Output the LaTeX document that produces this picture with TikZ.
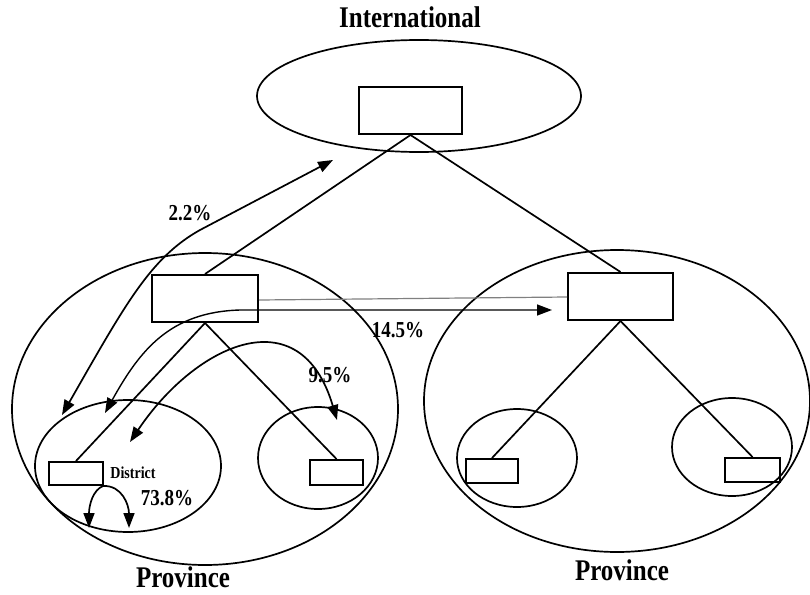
\documentclass[tikz,border=0pt]{standalone}
\usepackage{graphicx}
\usepackage{fontspec}
\setmainfont{Liberation Serif}
\usetikzlibrary{shapes.geometric,arrows.meta}
% slightly tall lettering
\newcommand{\tallt}[1]{\scalebox{1}[1.2]{#1}}
\begin{document}
\begin{tikzpicture}[x=1pt,y=-1pt,
  region/.style={draw, ellipse, line width=1.7pt, inner sep=0pt},
  unit/.style={draw, rectangle, line width=2pt, inner sep=0pt},
  link/.style={line width=1.7pt},
  tip/.tip={Triangle[length=15pt,width=11pt]},
  flow/.style={line width=1.7pt, tip-tip},
  lbl/.style={font=\bfseries, inner sep=0pt}]
\useasboundingbox (0,0) rectangle (810,594);

% levels: international, two provinces, districts
\node[region, minimum width=324pt, minimum height=112pt] (intl) at (419,96) {};
\node[region, minimum width=386pt, minimum height=312pt] (lprov) at (205,409) {};
\node[region, minimum width=386pt, minimum height=302pt] (rprov) at (617,401) {};
\node[region, minimum width=186pt, minimum height=132pt] (ldA) at (128,466) {};
\node[region, minimum width=120pt, minimum height=102pt] (ldB) at (318,458) {};
\node[region, minimum width=120pt, minimum height=98pt] (rdA) at (517,458) {};
\node[region, minimum width=120pt, minimum height=98pt] (rdB) at (732,447) {};

% units
\node[unit, minimum width=103pt, minimum height=47pt] (ibox) at (410.5,110.5) {};
\node[unit, minimum width=106pt, minimum height=47pt] (lbox) at (205,298.5) {};
\node[unit, minimum width=105pt, minimum height=47pt] (rbox) at (620.5,296.5) {};
\node[unit, minimum width=54pt, minimum height=23pt] (lbA) at (76,473.5) {};
\node[unit, minimum width=53pt, minimum height=25pt] (lbB) at (336.5,472.5) {};
\node[unit, minimum width=52pt, minimum height=24pt] (rbA) at (492,471) {};
\node[unit, minimum width=55pt, minimum height=24pt] (rbB) at (752.5,470) {};

% hierarchy
\draw[link] (ibox.south) -- (lbox.north);
\draw[link] (ibox.south) -- (rbox.north);
\draw[link] (lbox.south) -- (lbA.north);
\draw[link] (lbox.south) -- (lbB.north);
\draw[link] (rbox.south) -- (rbA.north);
\draw[link] (rbox.south) -- (rbB.north);
\draw[gray, line width=1.2pt] ([yshift=-1.5pt]lbox.east) -- ([yshift=-0.5pt]rbox.west);

% flows
\coordinate (f22a) at (62,415);
\coordinate (f22b) at (333,160);
\draw[flow] (f22a) .. controls (125,305) and (150,258) .. (200,230) -- (f22b);

\coordinate (f145a) at (105,413);
\coordinate (f145b) at (552,310);
\draw[flow, line width=1.4pt] (f145a) .. controls (140,350) and (170,312) .. (240,310) -- (f145b);

\coordinate (f95a) at (130,442);
\coordinate (f95b) at (337,420);
\draw[flow] (f95a) .. controls (195,345) and (300,295) .. (f95b);

\coordinate (loop) at ([xshift=-1pt]lbA.south east);
\coordinate (la) at (89,528);
\coordinate (lb) at (129,528);
\draw[link,-tip] (loop) .. controls (93,490) and (89,505) .. (la);
\draw[link,-tip] (loop) .. controls (122,485) and (129,505) .. (lb);

% labels
\node[lbl, font=\bfseries\fontsize{25}{25}\selectfont] (tintl) at (410,17) {\tallt{International}};
\node[lbl, font=\bfseries\fontsize{25}{25}\selectfont] (tlprov) at (183,577) {\tallt{Province}};
\node[lbl, font=\bfseries\fontsize{25}{25}\selectfont] (trprov) at (622,570) {\tallt{Province}};
\node[lbl, font=\bfseries\fontsize{19}{19}\selectfont] (t22) at (190,213) {\tallt{2.2\%}};
\node[lbl, font=\bfseries\fontsize{19}{19}\selectfont] (t145) at (398,330) {\tallt{14.5\%}};
\node[lbl, font=\bfseries\fontsize{19}{19}\selectfont] (t95) at (330,375) {\tallt{9.5\%}};
\node[lbl, font=\bfseries\fontsize{19}{19}\selectfont] (t738) at (167,498) {\tallt{73.8\%}};
\node[lbl, font=\bfseries\fontsize{14}{14}\selectfont] (tdist) at (133,473) {\tallt{District}};
\end{tikzpicture}
\end{document}
